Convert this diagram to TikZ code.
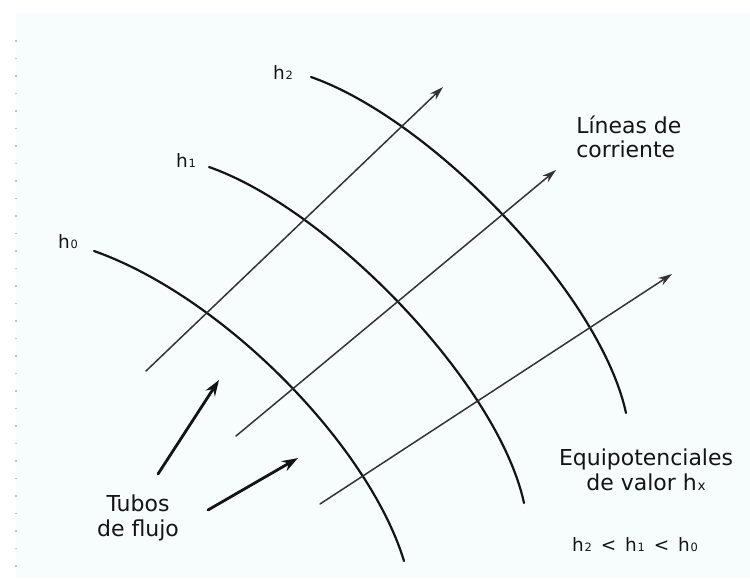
\documentclass[tikz,border=0pt]{standalone}
\usepackage{fontspec}
\setmainfont{DejaVu Sans}
\usetikzlibrary{arrows.meta}
\definecolor{FlowPaper}{HTML}{F7FCFD}
\definecolor{FlowInk}{gray}{0.08}
\definecolor{FlowSecondary}{gray}{0.2}
\definecolor{FlowDots}{gray}{0.75}
\newcommand{\hsub}[1]{h\kern0.4pt\scalebox{0.62}{#1}}
\tikzset{
    flow/diagram/.style={
        font=\fontsize{12.5}{14}\selectfont,
        text=FlowInk,
        line cap=round,
        line join=round,
        >=Stealth
    },
    flow/equipotential/.style={draw=FlowInk, line width=1.25pt},
    flow/streamline/.style={
        draw=FlowSecondary, line width=0.85pt,
        -{Stealth[length=2.8mm, width=1.7mm]}
    },
    flow/tube/.style={
        draw=FlowInk, line width=1.6pt,
        -{Stealth[length=3.2mm, width=2.2mm]}
    },
    flow/hlabel/.style={font=\fontsize{10.5}{12}\selectfont, inner sep=0pt},
    flow/label/.style={align=center, inner sep=0pt},
    flow/dot/.style={fill=FlowDots, draw=none}
}
\begin{document}
\begin{tikzpicture}[flow/diagram, x=0.02cm, y=-0.02cm]
    \useasboundingbox (0,0) rectangle (750,578);
    \fill[FlowPaper] (16,13) rectangle (750,578);
    \foreach \y in {41,58.5,...,568}
        \fill[flow/dot] (15.4,\y-0.9) rectangle (17.2,\y+0.9);

    % equipotentials
    \draw[flow/equipotential] (311,77)
        .. controls (431,119) and (600,293) .. (626,413);
    \draw[flow/equipotential] (209,167)
        .. controls (329,209) and (498,383) .. (524,503);
    \draw[flow/equipotential] (94,251)
        .. controls (224,297) and (369,446) .. (404,561);
    \node[flow/hlabel] (h2) at (283,72) {\hsub{2}};
    \node[flow/hlabel] (h1) at (186,160) {\hsub{1}};
    \node[flow/hlabel] (h0) at (68,242) {\hsub{0}};

    % streamlines
    \coordinate (s1a) at (146,371);
    \coordinate (s1b) at (443,87);
    \coordinate (s2a) at (236,436);
    \coordinate (s2b) at (556,170);
    \coordinate (s3a) at (320,504);
    \coordinate (s3b) at (672,274);
    \draw[flow/streamline] (s1a) -- (s1b);
    \draw[flow/streamline] (s2a) -- (s2b);
    \draw[flow/streamline] (s3a) -- (s3b);

    % tubes
    \coordinate (t1a) at (158,474);
    \coordinate (t1b) at (219,380);
    \coordinate (t2a) at (208,510);
    \coordinate (t2b) at (298,458);
    \draw[flow/tube] (t1a) -- (t1b);
    \draw[flow/tube] (t2a) -- (t2b);

    \node[flow/label] (tubos) at (138,518) {Tubos\\de flujo};
    \node[flow/label, align=left, anchor=west] (lineas) at (576,137)
        {Líneas de\\corriente};
    \node[flow/label] (equip) at (646,470) {Equipotenciales\\de valor \hsub{x}};
    \node[flow/hlabel] (orden) at (635,545)
        {\hsub{2} \,<\, \hsub{1} \,<\, \hsub{0}};
\end{tikzpicture}
\end{document}
